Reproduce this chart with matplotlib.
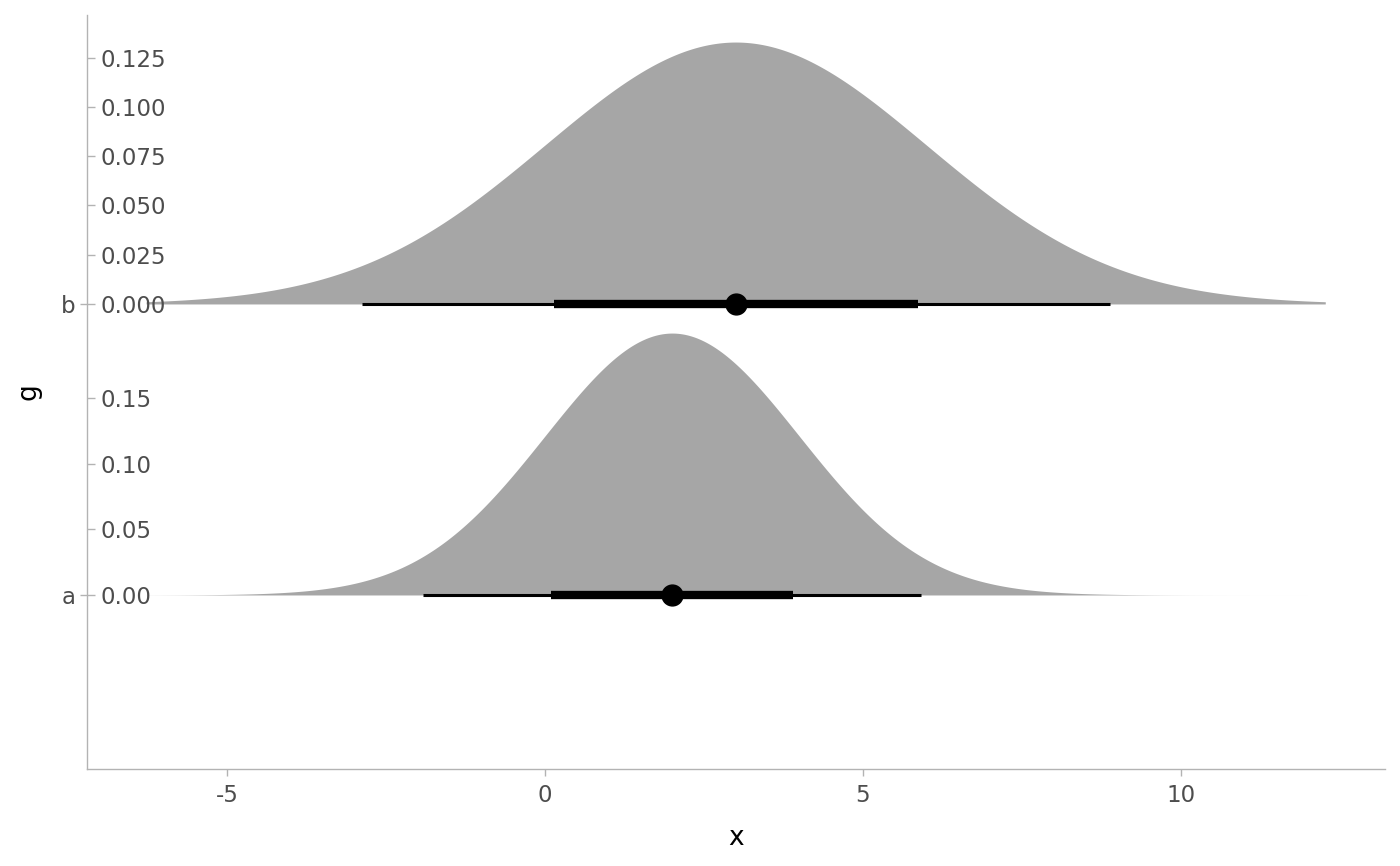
import numpy as np
import matplotlib
matplotlib.use("Agg")
import matplotlib.pyplot as plt

# groups and their normal distributions
groups = ["a", "b"]
means = [2.0, 3.0]
sds = [2.0, 3.0]
# density ticks shown for each group
dens_ticks = {
    "a": [0.00, 0.05, 0.10, 0.15],
    "b": [0.000, 0.025, 0.050, 0.075, 0.100, 0.125],
}
dens_fmt = {"a": "{:.2f}", "b": "{:.3f}"}
x_ticks = [-5, 0, 5, 10]

slab_col = "#a6a6a6"
axis_col = "#b3b3b3"
text_col = "#4d4d4d"
scale = 0.9

fig = plt.figure(figsize=(14, 8.66), dpi=100)
ax = fig.add_axes([0.0621, 0.112, 0.9272, 0.8707])

# shared slab range (0.1% .. 99.9% of the widest distribution)
z = 3.0902
lo = min(m - z * s for m, s in zip(means, sds))
hi = max(m + z * s for m, s in zip(means, sds))
grid = np.linspace(lo, hi, 600)

in_ticks = []
in_labels = []
for i, (g, m, s) in enumerate(zip(groups, means, sds)):
    base = i + 1
    d = np.exp(-0.5 * ((grid - m) / s) ** 2) / (s * np.sqrt(2 * np.pi))
    peak = d.max()
    ax.fill_between(grid, base, base + d / peak * scale, color=slab_col, lw=0, zorder=1)

    # intervals 66% and 95%
    q66 = [m - 0.9542 * s, m + 0.9542 * s]
    q95 = [m - 1.96 * s, m + 1.96 * s]
    ax.plot(q95, [base, base], color="black", lw=2.2, solid_capstyle="butt", zorder=2)
    ax.plot(q66, [base, base], color="black", lw=6.0, solid_capstyle="butt", zorder=3)
    ax.plot([m], [base], "o", color="black", ms=15, zorder=4)

    for v in dens_ticks[g]:
        in_ticks.append(base + v / peak * scale)
        in_labels.append(dens_fmt[g].format(v))

ax.set_xlim(-7.2, 13.21)
ax.set_ylim(0.402, 2.993)
ax.set_xticks(x_ticks, [str(t) for t in x_ticks])
ax.set_yticks([1, 2], groups)

for side in ["top", "right"]:
    ax.spines[side].set_visible(False)
for side in ["left", "bottom"]:
    ax.spines[side].set_color(axis_col)
    ax.spines[side].set_linewidth(1.0)

ax.tick_params(axis="both", colors=axis_col, labelcolor=text_col, labelsize=16.5,
               length=5, width=1.0)
ax.tick_params(axis="x", pad=6)
ax.tick_params(axis="y", pad=3)
ax.set_xlabel("x", fontsize=19, labelpad=13)
ax.set_ylabel("g", fontsize=19, labelpad=14)

# inner density axis on the left spine
ax2 = ax.twinx()
ax2.set_ylim(ax.get_ylim())
ax2.yaxis.tick_left()
ax2.set_yticks(in_ticks, in_labels)
ax2.tick_params(axis="y", direction="in", colors=axis_col, labelcolor=text_col,
                labelsize=16.5, length=5.5, width=1.0, pad=-9.5)
for lab in ax2.get_yticklabels():
    lab.set_horizontalalignment("left")
for side in ax2.spines:
    ax2.spines[side].set_visible(False)

fig.savefig("out.png", dpi=100)
